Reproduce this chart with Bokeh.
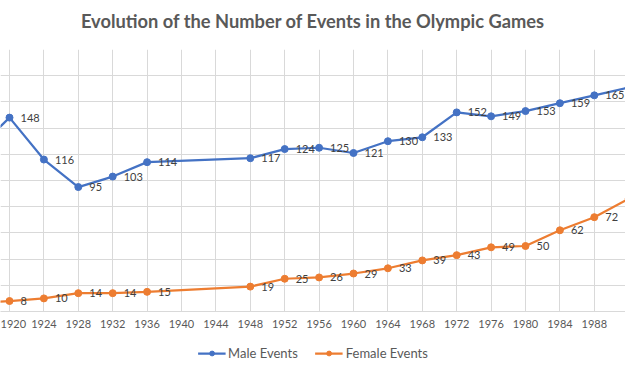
from bokeh.plotting import figure
from bokeh.layouts import column
from bokeh.models import Range1d, FixedTicker, Legend, LegendItem, ColumnDataSource
from bokeh.core.properties import value
from bokeh.embed import file_html
from bokeh.resources import INLINE

# ---- data ----
years = [1912, 1920, 1924, 1928, 1932, 1936, 1948, 1952, 1956, 1960, 1964,
         1968, 1972, 1976, 1980, 1984, 1988, 1992]
male_events = [97, 148, 116, 95, 103, 114, 117, 124, 125, 121, 130,
               133, 152, 149, 153, 159, 165, 171]
female_events = [5, 8, 10, 14, 14, 15, 19, 25, 26, 29, 33,
                 39, 43, 49, 50, 62, 72, 86]
tick_years = list(range(1916, 1997, 4))
series_names = ["Male Events", "Female Events"]
title_text = "Evolution of the Number of Events in the Olympic Games"

MALE = "#4472C4"
FEMALE = "#ED7D31"
GRID = "#D9D9D9"
TXT = "#595959"
LBL = "#404040"
FONT = "Lato"

W = 625
PX_PER_YEAR = 8.6
x_lo = 1920 - 9 / PX_PER_YEAR
x_hi = 1920 + (W - 9) / PX_PER_YEAR

# ---- title strip ----
tf = figure(width=W, height=40, output_backend="svg", toolbar_location=None,
            x_range=Range1d(0, 1), y_range=Range1d(0, 1), min_border=0)
tf.outline_line_color = None
tf.axis.visible = False
tf.grid.visible = False
tf.text(x=[0.5], y=[0.5], text=[title_text], text_align="center",
        text_baseline="middle", text_font=value(FONT), text_font_size="18.3px",
        text_font_style="bold", text_color=TXT)

# ---- main chart ----
p = figure(width=W, height=298, output_backend="svg", toolbar_location=None,
           x_range=Range1d(x_lo, x_hi),
           y_range=Range1d(0, 200),
           min_border_left=0, min_border_right=0, min_border_top=9,
           min_border_bottom=27)
p.outline_line_color = None

p.yaxis.visible = False
p.xaxis.ticker = FixedTicker(ticks=tick_years)
p.xaxis.major_label_overrides = {y: str(y) for y in tick_years}
p.xaxis.axis_line_color = GRID
p.xaxis.major_tick_line_color = None
p.xaxis.minor_tick_line_color = None
p.xaxis.major_label_text_font = FONT
p.xaxis.major_label_text_font_size = "11px"
p.xaxis.major_label_text_color = TXT
p.xaxis.major_label_standoff = 2

p.xgrid.ticker = FixedTicker(ticks=tick_years)
p.ygrid.ticker = FixedTicker(ticks=list(range(0, 201, 20)))
p.xgrid.grid_line_color = GRID
p.ygrid.grid_line_color = GRID

src = ColumnDataSource(dict(x=years, m=male_events, f=female_events,
                            ml=[str(v) for v in male_events],
                            fl=[str(v) for v in female_events]))

p.line("x", "m", source=src, line_color=MALE, line_width=2.25)
p.scatter("x", "m", source=src, size=7, fill_color=MALE, line_color=MALE)
p.line("x", "f", source=src, line_color=FEMALE, line_width=2.25)
p.scatter("x", "f", source=src, size=7, fill_color=FEMALE, line_color=FEMALE)

p.text("x", "m", text="ml", source=src, x_offset=11, text_align="left",
       text_baseline="middle", text_font=value(FONT), text_font_size="11px",
       text_color=LBL)
p.text("x", "f", text="fl", source=src, x_offset=11, text_align="left",
       text_baseline="middle", text_font=value(FONT), text_font_size="11px",
       text_color=LBL)

# ---- legend strip ----
lf = figure(width=W, height=30, output_backend="svg", toolbar_location=None,
            x_range=Range1d(0, 1), y_range=Range1d(0, 1),
            min_border=0)
lf.outline_line_color = None
lf.axis.visible = False
lf.grid.visible = False
off = ColumnDataSource(dict(x=[-10, -9], y=[-10, -9]))
l1 = lf.line("x", "y", source=off, line_color=MALE, line_width=2.25)
s1 = lf.scatter("x", "y", source=off, size=7, fill_color=MALE, line_color=MALE)
l2 = lf.line("x", "y", source=off, line_color=FEMALE, line_width=2.25)
s2 = lf.scatter("x", "y", source=off, size=7, fill_color=FEMALE, line_color=FEMALE)
legend = Legend(items=[LegendItem(label=series_names[0], renderers=[l1, s1]),
                       LegendItem(label=series_names[1], renderers=[l2, s2])],
                orientation="horizontal", location="center",
                glyph_width=28, glyph_height=12, label_standoff=3, spacing=17,
                padding=2, margin=0,
                label_text_font=FONT, label_text_font_size="13px",
                label_text_color=TXT,
                border_line_color=None, background_fill_alpha=0)
lf.add_layout(legend)

layout = column(tf, p, lf, spacing=0)
open("out.html", "w").write(file_html(layout, INLINE))
